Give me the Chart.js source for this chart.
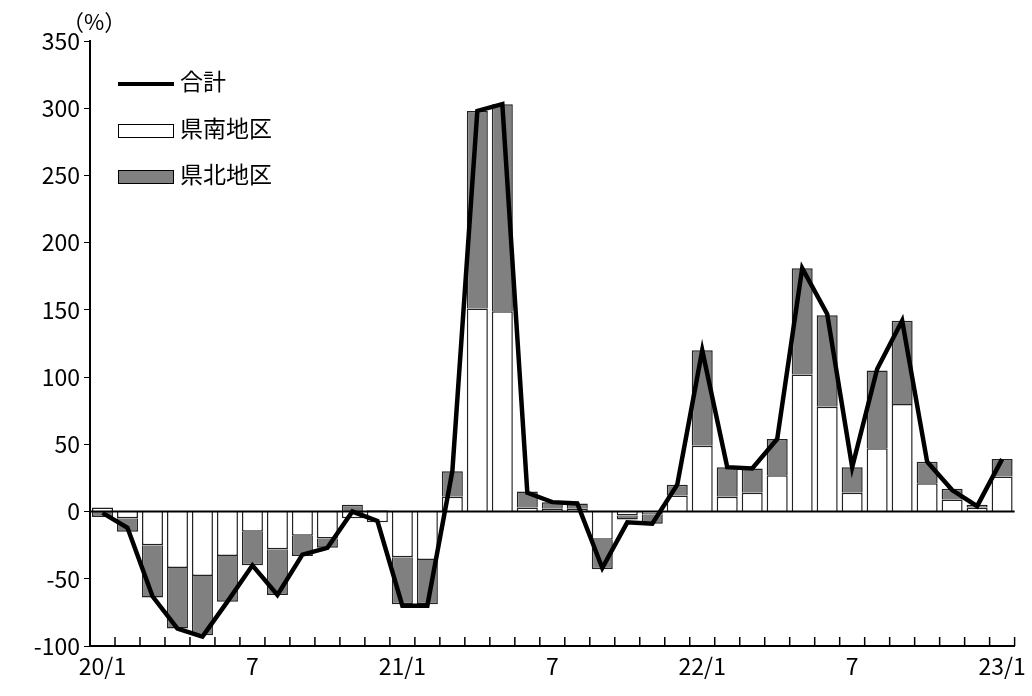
<!DOCTYPE html>
<html>
<head>
<meta charset="utf-8">
<script src="https://cdn.jsdelivr.net/npm/chart.js@4"></script>
<style>
  body { margin:0; background:#fff; font-family:"Noto Sans CJK JP", sans-serif; }
  #wrap { position:relative; width:1032px; height:696px; }
  .lab { position:absolute; font-size:22px; color:#000; }
  .leg { position:absolute; font-size:23px; color:#000; line-height:26px; }
  .sw { display:inline-block; vertical-align:middle; margin-right:6px; }
</style>
</head>
<body>
<div id="wrap">
  <canvas id="myChart" width="1032" height="696"></canvas>
  <div class="lab" style="left:62px;top:4px;">（%）</div>
  <div class="leg" style="left:118px;top:67px;"><span class="sw" style="width:56px;height:4px;background:#000;"></span>合計</div>
  <div class="leg" style="left:118px;top:114px;"><span class="sw" style="width:56px;height:14px;border:1px solid #000;background:#fff;box-sizing:border-box;"></span>県南地区</div>
  <div class="leg" style="left:118px;top:160px;"><span class="sw" style="width:56px;height:14px;border:1px solid #000;background:#808080;box-sizing:border-box;"></span>県北地区</div>
</div>
<script>
var months = ['20/1','2','3','4','5','6','7','8','9','10','11','12',
              '21/1','2','3','4','5','6','7','8','9','10','11','12',
              '22/1','2','3','4','5','6','7','8','9','10','11','12','23/1'];
var tickShown = {0:'20/1',6:'7',12:'21/1',18:'7',24:'22/1',30:'7',36:'23/1'};
var south = [3,-5,-25,-42,-48,-33,-15,-28,-18,-20,-5,-8,
             -34,-36,11,151,149,3,2,2,-21,-3,-2,12,
             49,11,14,27,102,78,14,47,80,21,9,3,26];
var north = [-4,-10,-39,-45,-44,-34,-25,-34,-15,-7,5,1,
             -35,-33,19,147,154,12,5,4,-22,-3,-7,8,
             71,22,18,27,79,68,19,58,62,16,8,2,13];
var total = [-1,-12,-63,-87,-93,-67,-40,-62,-32,-27,0,-7,
             -70,-70,30,298,303,14,7,6,-42,-8,-9,20,
             120,33,32,54,181,147,33,106,142,37,16,4,39];

var innerTicks = {
  id:'innerTicks',
  afterDraw:function(chart){
    var c = chart.ctx, x = chart.scales.x, y = chart.scales.y;
    var bottom = y.getPixelForValue(-100);
    c.save(); c.strokeStyle='#000'; c.lineWidth=1.5;
    for (var i=0;i<months.length;i++){
      var px = x.getPixelForValue(i) + (x.getPixelForValue(1)-x.getPixelForValue(0))/2;
      c.beginPath(); c.moveTo(px,bottom); c.lineTo(px,bottom-9); c.stroke();
    }
    var z = y.getPixelForValue(0);
    c.lineWidth=2;
    c.beginPath(); c.moveTo(chart.chartArea.left,z); c.lineTo(chart.chartArea.right,z); c.stroke();
    c.restore();
  }
};

new Chart(document.getElementById('myChart').getContext('2d'), {
  type:'bar',
  data:{
    labels:months,
    datasets:[
      {type:'line', label:'合計', data:total, borderColor:'#000', borderWidth:4.5,
       pointRadius:0, stack:'line', order:0, tension:0},
      {label:'県南地区', data:south, backgroundColor:'#fff', borderColor:'#222', borderWidth:1.5,
       stack:'s', order:1, barPercentage:0.84, categoryPercentage:1},
      {label:'県北地区', data:north, backgroundColor:'#808080', borderColor:'#222', borderWidth:1.5,
       stack:'s', order:1, barPercentage:0.84, categoryPercentage:1}
    ]
  },
  options:{
    responsive:false, animation:false,
    layout:{padding:{top:41,right:17,left:0,bottom:0}},
    plugins:{legend:{display:false}, tooltip:{enabled:false}},
    scales:{
      x:{stacked:true, offset:true,
         grid:{display:false, drawTicks:false},
         border:{display:true, color:'#000', width:2},
         ticks:{autoSkip:false, maxRotation:0, color:'#000', padding:6,
                font:{size:23, family:'"Noto Sans CJK JP", sans-serif'},
                callback:function(v,i){ return tickShown[i] || ''; }},
         afterFit:function(s){ s.height=50; }},
      y:{stacked:true, min:-100, max:350,
         grid:{drawOnChartArea:false, color:'#000', tickLength:6},
         border:{display:true, color:'#000', width:2},
         ticks:{stepSize:50, color:'#000', padding:4,
                font:{size:23, family:'"Noto Sans CJK JP", sans-serif'}},
         afterFit:function(s){ s.width=90; }}
    }
  },
  plugins:[innerTicks]
});
</script>
</body>
</html>
